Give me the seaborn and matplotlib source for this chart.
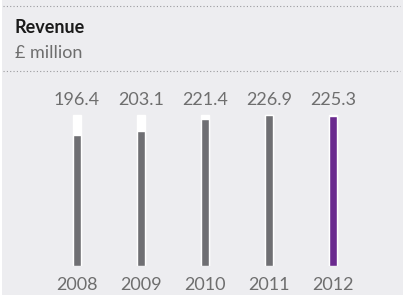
import matplotlib
matplotlib.use("Agg")
import matplotlib.pyplot as plt
import seaborn as sns
import pandas as pd
from matplotlib.patches import Rectangle
from matplotlib.lines import Line2D

# data
years = ["2008", "2009", "2010", "2011", "2012"]
revenue = [196.4, 203.1, 221.4, 226.9, 225.3]
bar_colors = ["#6f6f73", "#6f6f73", "#6f6f73", "#6f6f73", "#6a2a8e"]

bg = "#ededf0"
text_grey = "#6e6e6e"

sns.set_theme(style="white")
plt.rcParams["font.family"] = ["Lato", "DejaVu Sans"]

df = pd.DataFrame({"year": years, "revenue": revenue})
df["backing"] = max(revenue)

W, H = 403, 295
fig = plt.figure(figsize=(W / 100, H / 100), dpi=100, facecolor="white")

# panel background
fig.add_artist(Rectangle((2 / W, 0), 1, 1, transform=fig.transFigure,
                         facecolor=bg, edgecolor="none", zorder=-10))

# dotted rules
for ypix in (6, 71):
    fig.add_artist(Line2D([3 / W, 400 / W], [1 - ypix / H, 1 - ypix / H],
                          transform=fig.transFigure, color="#9a9a9e",
                          linestyle=(0, (1, 2)), linewidth=0.8))

fig.text(15 / W, 1 - 33 / H, "Revenue", fontsize=13, fontweight="bold",
         color="#1a1a1a", ha="left", va="baseline")
fig.text(15 / W, 1 - 58 / H, "£ million", fontsize=13,
         color=text_grey, ha="left", va="baseline")

# axes: baseline at y=266px, 151px for the tallest bar
base_px, top_px = 266, 80
ax = fig.add_axes([45 / W, (H - base_px) / H, 320 / W, (base_px - top_px) / H])
ax.set_facecolor("none")

width = 8 / 64
sns.barplot(data=df, x="year", y="backing", color="white", width=width,
            ax=ax, saturation=1)
sns.barplot(data=df, x="year", y="revenue", hue="year", palette=bar_colors,
            width=width, ax=ax, saturation=1, legend=False)

ax.set_xlim(-0.5, len(years) - 0.5)
ax.set_ylim(0, max(revenue) * (base_px - top_px) / 151)

for i, v in enumerate(revenue):
    ax.annotate(f"{v:.1f}", (i, max(revenue)), xytext=(0, 5),
                textcoords="offset points", ha="center", va="bottom",
                fontsize=13, color=text_grey)

ax.set_xlabel("")
ax.set_ylabel("")
ax.set_yticks([])
ax.tick_params(axis="x", length=0, pad=8, labelsize=13, labelcolor=text_grey)
for s in ax.spines.values():
    s.set_visible(False)

fig.savefig("out.png", dpi=100, facecolor="white")
